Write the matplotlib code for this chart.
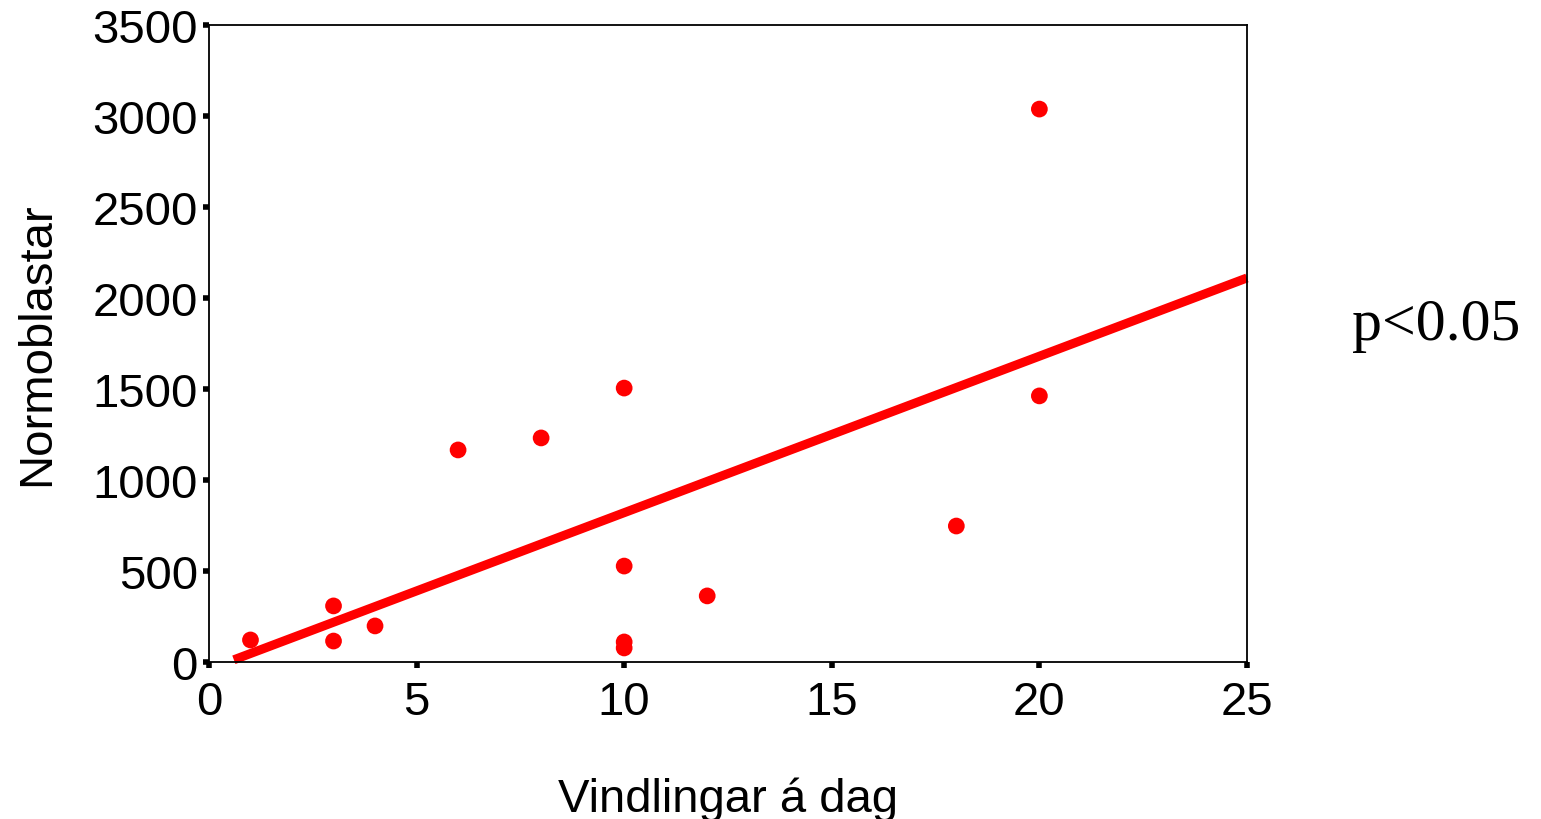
import numpy as np
import matplotlib.pyplot as plt

# Vindlingar a dag vs Normoblastar
vindlingar = [1, 3, 3, 4, 6, 8, 10, 10, 10, 10, 12, 18, 20, 20]
normoblastar = [121, 308, 115, 198, 1165, 1231, 1505, 527, 110, 77, 363, 747, 3038, 1462]

# regression line
line_x = [0.6, 25]
line_y = [12, 2110]

xticks = [0, 5, 10, 15, 20, 25]
yticks = [0, 500, 1000, 1500, 2000, 2500, 3000, 3500]

plt.rcParams['font.family'] = ['Liberation Sans', 'DejaVu Sans']

fig = plt.figure(figsize=(15.41, 8.2), dpi=100)
ax = fig.add_axes([0.1356, 0.1915, 0.6736, 0.7768])

ax.plot(line_x, line_y, color='#ff0000', linewidth=6.5, solid_capstyle='butt', zorder=2, clip_on=False)
ax.scatter(vindlingar, normoblastar, s=145, color='#ff0000', edgecolors='none', zorder=3)

ax.set_xlim(0, 25)
ax.set_ylim(0, 3500)
ax.set_xticks(xticks)
ax.set_yticks(yticks)
ax.tick_params(axis='both', direction='out', length=4, width=4, labelsize=34)
ax.tick_params(axis='x', pad=9)
ax.tick_params(axis='y', pad=4)

for s in ax.spines.values():
    s.set_linewidth(1.3)

ax.set_xlabel('Vindlingar á dag', fontsize=34, labelpad=38)
ax.set_ylabel('Normoblastar', fontsize=34, labelpad=24)

fig.text(0.932, 0.603, 'p<0.05', fontsize=43, family=['Liberation Serif', 'DejaVu Serif'],
         ha='center', va='center')

fig.savefig('out.png', dpi=100, facecolor='white')
